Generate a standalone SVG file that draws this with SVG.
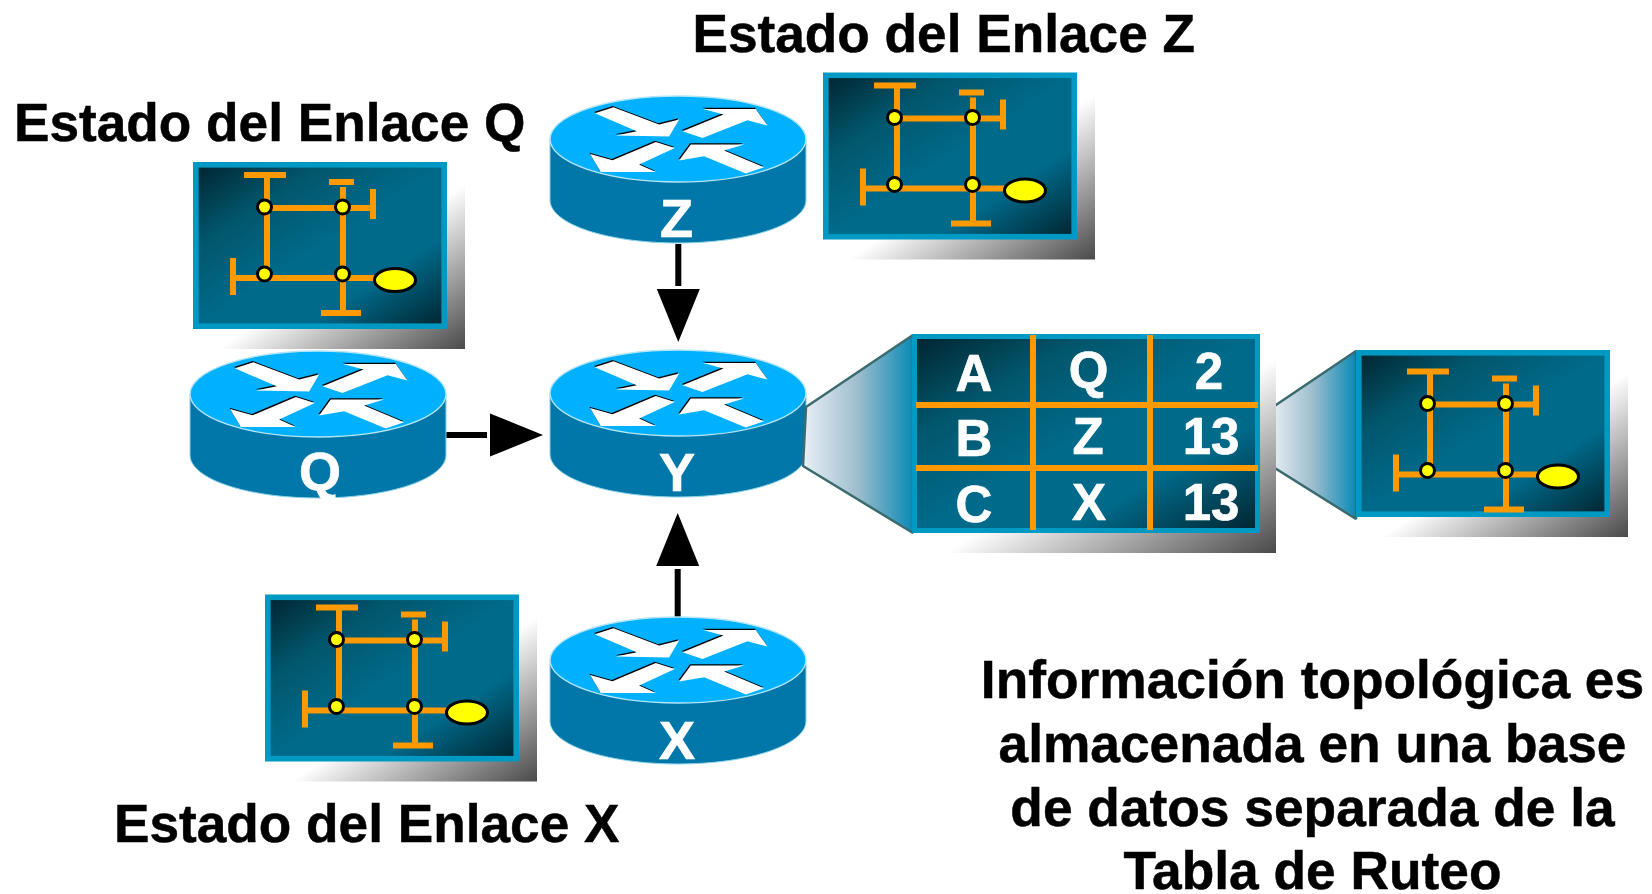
<svg xmlns="http://www.w3.org/2000/svg" width="1652" height="894" viewBox="0 0 1652 894">
<style>
text{font-family:"Liberation Sans",Arial,sans-serif;font-weight:700}
.h{font-size:53.2px;fill:#000;stroke:#000;stroke-width:.5}
.p{font-size:53.3px;fill:#000;stroke:#000;stroke-width:.5;text-anchor:middle}
.w{font-size:51px;fill:#fff;stroke:#fff;stroke-width:.7;text-anchor:middle}
.r{font-size:54px;fill:#fff;stroke:#fff;stroke-width:.7;text-anchor:middle}
.o{fill:#f90}
.n{fill:#ff0;stroke:#000;stroke-width:3}
.c{stroke:#000;stroke-width:6;fill:none;marker-end:url(#ah)}
.t{stroke:#3b6b6e;stroke-width:2.5;fill:url(#tg);stroke-linejoin:bevel}
</style>
<defs>
<linearGradient id="sh" x1="0" y1="0" x2="1" y2="1"><stop offset=".52" stop-color="#fff"/><stop offset="1" stop-color="#4a4a4a"/></linearGradient>
<linearGradient id="pg" x1="0" y1="0" x2="1" y2="1"><stop offset="0" stop-color="#01242f"/><stop offset=".25" stop-color="#02566c"/><stop offset=".5" stop-color="#006a8a"/><stop offset=".72" stop-color="#006a8a"/><stop offset="1" stop-color="#01242f"/></linearGradient>
<linearGradient id="tg"><stop offset="0" stop-color="#eaf0f5"/><stop offset=".5" stop-color="#9dbdce"/><stop offset="1" stop-color="#0a8ab5"/></linearGradient>
<marker id="ah" markerUnits="userSpaceOnUse" markerWidth="56" markerHeight="43" refX="0" refY="21.5" orient="auto" overflow="visible"><path d="M3,0 L56,21.5 L3,43z" fill="#000"/></marker>
<g id="pf">
<rect x="15" y="15" width="257" height="172" fill="url(#sh)"/>
<rect x="2.8" y="2.8" width="248.4" height="161.4" fill="url(#pg)" stroke="#0099c4" stroke-width="5.6"/>
</g>
<g id="pd">
<path class="o" d="M51 10h42v6H77V108H71V16H51zM136 17h25v6h-25zM147 25h6V148h15v6H128v-6h19V119H43v14H37V96h6v17H147V49H77V43h70zM153 43h24V27h6v30h-6V49h-24zM153 113h30v6h-30z"/>
<circle class="n" cx="71.5" cy="45" r="7"/><circle class="n" cx="149.5" cy="45" r="7"/><circle class="n" cx="71.5" cy="112" r="7"/><circle class="n" cx="149.5" cy="112" r="7"/>
<ellipse class="n" cx="202" cy="118" rx="20.5" ry="11.5"/>
</g>
<g id="rt">
<path d="M-128,0V61C-128,85 -71,104 0,104S128,85 128,61V0z" fill="#0077a8" stroke="#8fd3ea" stroke-width="1"/>
<ellipse cx="0" cy="0" rx="128" ry="43" fill="#00b1ff" stroke="#b5e6f7" stroke-width="1.4"/>
<path id="a1" fill="#000" d="M-84-27L-65.3-33L-19.7-15.7L.3-20.7L-9.7-3.7L-63-4.7L-42-9zM24.3-31.3H77L88.7-14.7L68.7-20L23.7-2.3L3.7-9L44.7-25.7zM-88.7 13.7L-66.3 20L-23 1.7L-4 7.7L-39.7 24.3L-23 31.7H-78zM.3 20.3L12 4.3H65.3L45.3 10.3L85.3 27L67 33.3L25.3 16z"/>
<path fill="#fff" transform="translate(.8 1.3)" d="M-84-27L-65.3-33L-19.7-15.7L.3-20.7L-9.7-3.7L-63-4.7L-42-9zM24.3-31.3H77L88.7-14.7L68.7-20L23.7-2.3L3.7-9L44.7-25.7zM-88.7 13.7L-66.3 20L-23 1.7L-4 7.7L-39.7 24.3L-23 31.7H-78zM.3 20.3L12 4.3H65.3L45.3 10.3L85.3 27L67 33.3L25.3 16z"/>
</g>
</defs>
<g id="connectors">
<path class="c" d="M678.3 244V286"/>
<path class="c" d="M446 435H487"/>
<path class="c" d="M677.7 617V569"/>
</g>
<g id="router-z"><use href="#rt" x="678" y="139"/><text class="r" x="676.5" y="237">Z</text></g>
<g id="router-y"><use href="#rt" x="678" y="393"/><text class="r" x="677" y="491">Y</text></g>
<g id="router-q"><use href="#rt" x="318" y="394"/><text class="r" x="320" y="490">Q</text></g>
<g id="router-x"><use href="#rt" x="678" y="660"/><text class="r" x="677" y="759">X</text></g>
<g id="panel-q"><use href="#pf" x="193" y="162"/><use href="#pd" x="193" y="162"/></g>
<g id="panel-z"><use href="#pf" x="823" y="72.5"/><use href="#pd" x="823" y="72.5"/></g>
<g id="panel-x"><use href="#pf" x="265" y="594.5"/><use href="#pd" x="265" y="594.5"/></g>
<g id="zoom-right"><path class="t" d="M1270 409L1356 351V519L1270 465z"/></g>
<g id="routing-table">
<path class="t" d="M806 407L913 335V533L803 466z"/>
<rect x="930" y="350" width="346" height="203" fill="url(#sh)"/>
<rect x="914.5" y="336.5" width="343" height="194" fill="url(#pg)" stroke="#0099c4" stroke-width="5"/>
<path class="o" d="M1030 335h6V530h-6zM1147 335h6V530h-6zM916 402H1258v6H916zM916 465H1258v6H916z"/>
<text class="w" x="974" y="391">A</text><text class="w" x="1088.5" y="388">Q</text><text class="w" x="1209" y="389">2</text>
<text class="w" x="974" y="456">B</text><text class="w" x="1088" y="454">Z</text><text class="w" x="1211" y="454">13</text>
<text class="w" x="974" y="522">C</text><text class="w" x="1089" y="520">X</text><text class="w" x="1211" y="520">13</text>
</g>
<g id="panel-right"><use href="#pf" x="1356" y="350"/><use href="#pd" x="1356" y="358.5"/></g>
<g id="labels">
<text class="h" x="692.5" y="52">Estado del Enlace Z</text>
<text class="h" x="14" y="141">Estado del Enlace Q</text>
<text class="h" x="114" y="842">Estado del Enlace X</text>
<text class="p" x="1312.5" y="698">Información topológica es</text>
<text class="p" x="1312.5" y="762">almacenada en una base</text>
<text class="p" x="1312.5" y="826">de datos separada de la</text>
<text class="p" x="1312.5" y="889">Tabla de Ruteo</text>
</g>
</svg>
